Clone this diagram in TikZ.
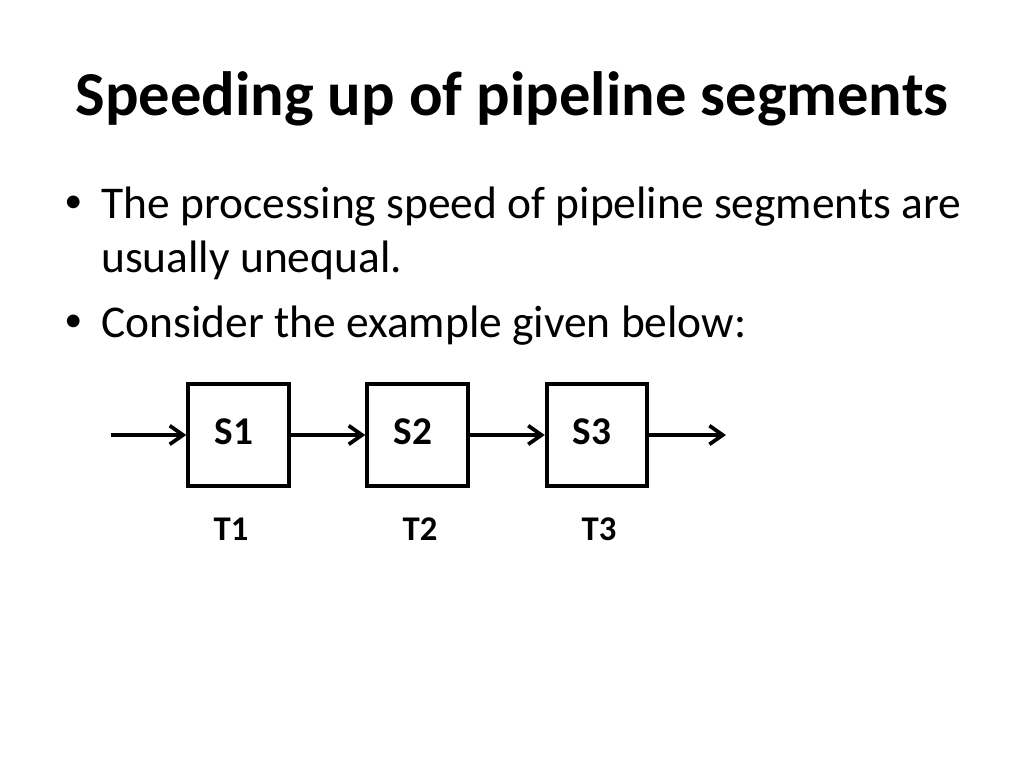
\documentclass[tikz,border=0pt]{standalone}
\usepackage{fontspec}
\setmainfont{Carlito}
\usetikzlibrary{arrows.meta}
\begin{document}
\begin{tikzpicture}[x=0.75pt,y=-0.75pt,
  title/.style={anchor=base,inner sep=0pt,font=\fontsize{46.9}{56}\selectfont\bfseries},
  body/.style={anchor=base west,inner sep=0pt,font=\fontsize{34.1}{41}\selectfont},
  bullet/.style={anchor=base west,inner sep=0pt,font=\fontsize{27}{32}\selectfont},
  stagebox/.style={draw,line width=2.8pt,minimum width=75.5pt,minimum height=76pt,inner sep=0pt},
  stagelbl/.style={anchor=base,inner sep=0pt,font=\fontsize{29.5}{35}\selectfont\bfseries},
  timelbl/.style={anchor=base,inner sep=0pt,font=\fontsize{26}{31}\selectfont\bfseries},
  flow/.style={line width=2.8pt,-{Straight Barb[length=10pt,width=14pt,line width=2.8pt]}}]
\useasboundingbox[fill=white] (0,0) rectangle (1024,768);
\node[title] (t) at (512,115) {Speeding up of pipeline segments};
\node[bullet] (b1) at (64,212) {•};
\node[body] (l1) at (101,218) {The processing speed of pipeline segments are};
\node[body] (l2) at (101,272) {usually unequal.};
\node[bullet] (b2) at (64,331) {•};
\node[body] (l3) at (101,337) {Consider the example given below:};
\node[stagebox] (s1) at (238.5,435) {};
\node[stagebox] (s2) at (417.5,435) {};
\node[stagebox] (s3) at (597,435) {};
\node[stagelbl] (n1) at (234,444) {S1};
\node[stagelbl] (n2) at (413,444) {S2};
\node[stagelbl] (n3) at (592,444) {S3};
\node[timelbl] (m1) at (231,540) {T1};
\node[timelbl] (m2) at (420,540) {T2};
\node[timelbl] (m3) at (599,540) {T3};
\coordinate (in) at (111,435);
\coordinate (out) at (726,435);
\draw[flow] (in) -- (s1.west);
\draw[flow] (s1.east) -- (s2.west);
\draw[flow] (s2.east) -- (s3.west);
\draw[flow] (s3.east) -- (out);
\end{tikzpicture}
\end{document}
